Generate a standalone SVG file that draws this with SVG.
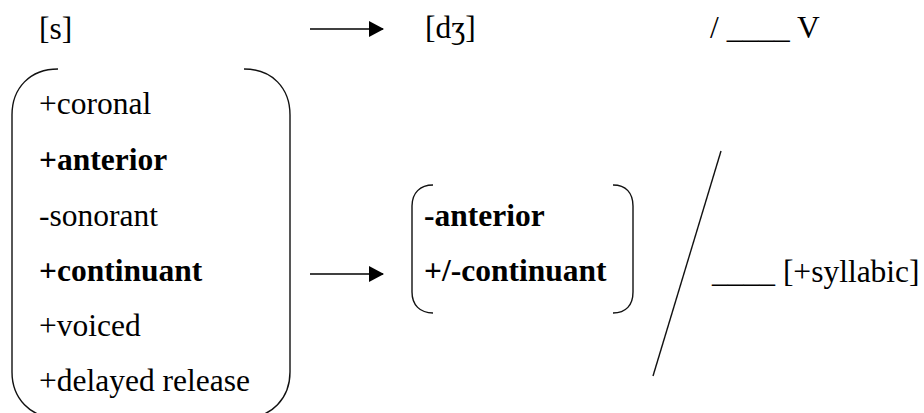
<svg xmlns="http://www.w3.org/2000/svg" width="924" height="413" viewBox="0 0 924 413">
  <defs>
    <style>
      text { font-size: 31.5px; fill: #000; }
      .b { font-weight: bold; }
      .brk { fill: none; stroke: #111; stroke-width: 1.4; }
      .arr { fill: none; stroke: #000; stroke-width: 1.6; }
    </style>
    <marker id="head" viewBox="0 0 15 16" refX="14" refY="8" markerWidth="15" markerHeight="16" markerUnits="userSpaceOnUse" orient="auto">
      <path d="M0,0 L15,8 L0,16 Z" fill="#000"/>
    </marker>
  </defs>
  <rect width="924" height="413" fill="#fff"/>

  <g font-family="'Liberation Serif', 'Times New Roman', 'DejaVu Serif', serif">
    <!-- top line of the rule -->
    <g id="input-segment"><text x="39" y="39">[s]</text></g>
    <g id="output-segment"><text x="425" y="38">[dʒ]</text></g>
    <g id="environment-top"><text x="710" y="38">/ ____ V</text></g>

    <!-- feature matrix of the input -->
    <g id="input-matrix">
      <path class="brk" d="M58,69 C30,69 12,88 12,115 L12,372 C12,398 30,418 58,418"/>
      <path class="brk" d="M244,69 C272,69 290,88 290,115 L290,372 C290,398 272,418 244,418"/>
      <text x="39" y="114">+coronal</text>
      <text class="b" x="39" y="170">+anterior</text>
      <text x="39" y="226">-sonorant</text>
      <text class="b" x="39" y="281">+continuant</text>
      <text x="39" y="336">+voiced</text>
      <text x="39" y="391">+delayed release</text>
    </g>

    <!-- feature matrix of the output -->
    <g id="output-matrix">
      <path class="brk" d="M433,185 C420,185 412,193 412,206 L412,292 C412,305 420,313 433,313"/>
      <path class="brk" d="M613,185 C626,185 633,193 633,206 L633,292 C633,305 626,313 613,313"/>
      <text class="b" x="424" y="226">-anterior</text>
      <text class="b" x="424" y="281">+/-continuant</text>
    </g>

    <!-- environment of the rule -->
    <g id="environment">
      <line class="brk" x1="721" y1="151" x2="653" y2="376"/>
      <text x="712" y="282">____ [+syllabic]</text>
    </g>
  </g>

  <!-- rewrite arrows -->
  <g id="connectors">
    <line class="arr" x1="310" y1="29" x2="383" y2="29" marker-end="url(#head)"/>
    <line class="arr" x1="310" y1="274" x2="383" y2="274" marker-end="url(#head)"/>
  </g>
</svg>
